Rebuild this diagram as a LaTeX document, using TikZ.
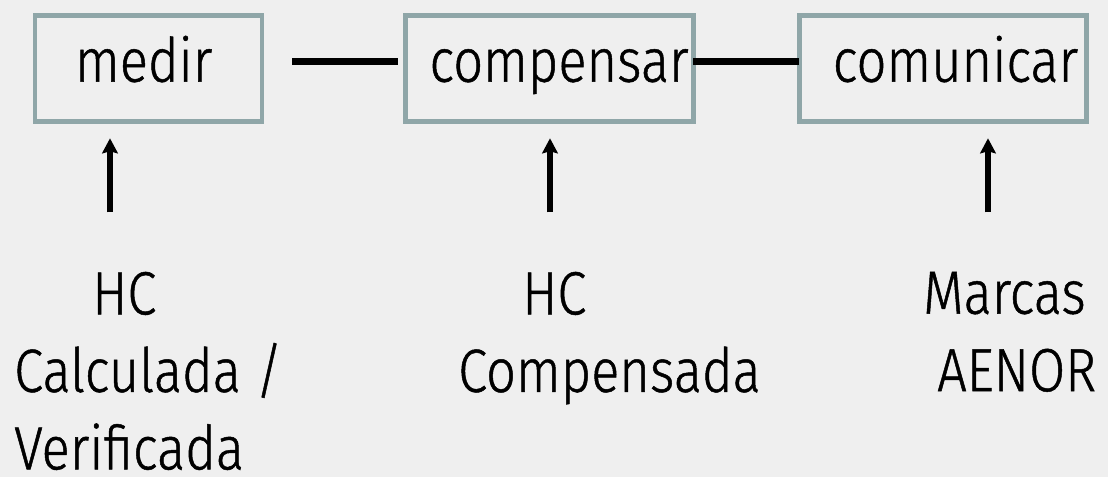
\documentclass[tikz,border=0pt]{standalone}
\usepackage{fontspec}
\setmainfont{Fira Sans Light}[FakeStretch=0.86,FakeBold=0.8]
\usetikzlibrary{arrows.meta,positioning}
\definecolor{pagegray}{HTML}{EFEFEF}
\definecolor{boxgray}{HTML}{8FA6A8}

\begin{document}
\begin{tikzpicture}[x=1pt,y=-1pt,>={Stealth[width=15.6pt,length=15pt,inset=2pt]},
    stage/.style={draw=boxgray,line width=4.7pt,minimum width=287.5pt,minimum height=106pt,inner sep=0pt,outer sep=0pt},
    stagetext/.style={font=\fontsize{61pt}{77.5pt}\selectfont,inner sep=0pt,anchor=base},
    result/.style={font=\fontsize{61pt}{77.5pt}\selectfont,inner sep=0pt,align=left,anchor=north west},
    link/.style={line width=7pt},
    feed/.style={->,line width=6pt,shorten >=16.5pt}]

                \fill[pagegray] (0,0) rectangle (1108,477);
                \useasboundingbox (0,0) rectangle (1108,477);

                \node[stage,minimum width=227pt] (medir) at (148.5,68.8) {};

                \node[stage] (compensar) [right=143.8pt of medir] {};

                \node[stage] (comunicar) [right=105.9pt of compensar] {};

                

                \node[stagetext] (medirtxt) at ([xshift=-4.8pt,yshift=-12.9pt]medir.center) {medir};

                \node[stagetext] (compensartxt) at ([xshift=9.5pt,yshift=-12.9pt]compensar.center) {compensar};

                \node[stagetext] (comunicartxt) at ([xshift=12.5pt,yshift=-12.9pt]comunicar.center) {comunicar};

                

                \draw[link,shorten <=30pt,shorten >=8.3pt] ([yshift=7.8pt]medir.east) -- ([yshift=7.8pt]compensar.west);

                \draw[link] ([yshift=7.8pt]compensar.east) -- ([yshift=7.8pt]comunicar.west);

                

                \foreach \stage/\x in {medir/110, compensar/550, comunicar/988}
                    {
                    \coordinate (\stage-in) at (\x,212.3);
                    \draw[feed] (\stage-in) -- (\stage-in |- \stage.south);
                    }

                

                \node[result] (medirhc) at (14,271.7) {\hspace*{78pt}HC\\Calculada /\\Verificada};

                \node[result] (compensarhc) at (458,271.7) {\hspace*{64pt}HC\\Compensada};

                \node[result] (comunicarmarcas) at (923,271.7) {Marcas\\\hspace*{14pt}AENOR};

            \end{tikzpicture}
\end{document}
